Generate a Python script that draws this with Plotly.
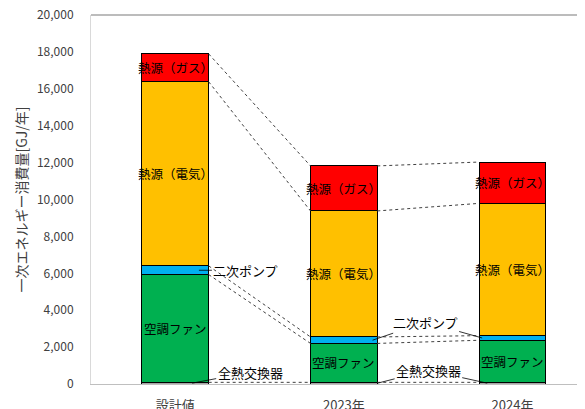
import plotly.graph_objects as go

# データ（GJ/年）
categories = ["設計値", "2023年", "2024年"]
series_names = ["全熱交換器", "空調ファン", "二次ポンプ", "熱源（電気）", "熱源（ガス）"]
heat_exchanger = [90, 90, 90]
ac_fan = [5840, 2110, 2280]
secondary_pump = [470, 350, 250]
heat_electric = [9980, 6830, 7170]
heat_gas = [1510, 2440, 2240]

series_values = [heat_exchanger, ac_fan, secondary_pump, heat_electric, heat_gas]
series_colors = ["#A5A5A5", "#00B050", "#00B0F0", "#FFC000", "#FF0000"]

y_ticks = list(range(0, 20001, 2000))

FONT = "Noto Sans CJK JP"
BAR_W = 0.396
xs = list(range(len(categories)))

fig = go.Figure()

for name, vals, col in zip(series_names, series_values, series_colors):
    fig.add_trace(
        go.Bar(
            x=xs,
            y=vals,
            name=name,
            width=BAR_W,
            marker={"color": col, "line": {"color": "#000000", "width": 1}},
            hoverinfo="name+y",
        )
    )

# 累積値（区分線用）
cum = []
for i in xs:
    total, tops = 0, []
    for vals in series_values:
        total += vals[i]
        tops.append(total)
    cum.append(tops)

# 区分線（点線）
for i in xs[:-1]:
    for k in range(len(series_values)):
        fig.add_trace(
            go.Scatter(
                x=[i + BAR_W / 2, i + 1 - BAR_W / 2],
                y=[cum[i][k], cum[i + 1][k]],
                mode="lines",
                line={"color": "#404040", "width": 1, "dash": "dot"},
                hoverinfo="skip",
                showlegend=False,
            )
        )

annotations = []

# 棒内ラベル
for i in xs:
    for k in (1, 3, 4):
        lo = cum[i][k - 1]
        hi = cum[i][k]
        annotations.append(
            {
                "x": i,
                "y": (lo + hi) / 2,
                "text": series_names[k],
                "showarrow": False,
                "font": {"size": 12.5, "color": "#000000", "family": FONT},
            }
        )


def mid(i, k):
    lo = cum[i][k - 1] if k > 0 else 0
    return (lo + cum[i][k]) / 2


def callout(x, y, text, ax, ay, visible=True):
    annotations.append(
        {
            "x": x,
            "y": y,
            "text": text,
            "showarrow": True,
            "arrowhead": 0,
            "arrowwidth": 0.8,
            "arrowcolor": "#000000",
            "ax": ax,
            "ay": ay,
            "font": {
                "size": 13,
                "color": "#000000" if visible else "rgba(0,0,0,0)",
                "family": FONT,
            },
        }
    )


# 設計値の引出線
callout(0.14, mid(0, 2), series_names[2], 47, 0)
callout(0.10, mid(0, 0), series_names[0], 58, -11)
# 2023年・2024年（共通ラベル）
callout(1.17, mid(1, 2), series_names[2], 53, -18)
callout(1.82, mid(2, 2), series_names[2], -57, -16, visible=False)
callout(1.20, mid(1, 0), series_names[0], 51, -13)
callout(1.85, mid(2, 0), series_names[0], -59, -13, visible=False)

# ページ本体の余白(8px)を考慮したサイズ
fig.update_layout(
    width=577,
    height=401,
    barmode="stack",
    showlegend=False,
    plot_bgcolor="#FFFFFF",
    paper_bgcolor="#FFFFFF",
    margin={"l": 83, "r": 0, "t": 7, "b": 25, "autoexpand": False},
    font={"family": FONT, "size": 12, "color": "#404040"},
    annotations=annotations,
    xaxis={
        "range": [-0.5, 2.43],
        "tickvals": xs,
        "ticktext": categories,
        "ticks": "outside",
        "ticklen": 9,
        "tickcolor": "rgba(0,0,0,0)",
        "tickfont": {"size": 13, "color": "#404040"},
        "ticklabeloverflow": "allow",
        "showline": True,
        "linecolor": "#BFBFBF",
        "linewidth": 1,
        "showgrid": False,
        "zeroline": False,
        "fixedrange": True,
        "automargin": False,
    },
    yaxis={
        "range": [0, 20000],
        "tickvals": y_ticks,
        "tickformat": ",d",
        "ticks": "outside",
        "ticklen": 14,
        "tickcolor": "rgba(0,0,0,0)",
        "tickfont": {"size": 12, "color": "#404040"},
        "ticklabeloverflow": "allow",
        "title": {
            "text": "一次エネルギー消費量[GJ/年]",
            "font": {"size": 14, "color": "#404040"},
            "standoff": 6,
        },
        "showline": True,
        "linecolor": "#D9D9D9",
        "showgrid": False,
        "zeroline": False,
        "fixedrange": True,
        "automargin": False,
    },
    shapes=[
        {
            "type": "line",
            "xref": "paper",
            "yref": "paper",
            "x0": 0,
            "x1": 1,
            "y0": 1,
            "y1": 1,
            "line": {"color": "#A6A6A6", "width": 1.5},
        }
    ],
)

fig.write_html("out.html")
